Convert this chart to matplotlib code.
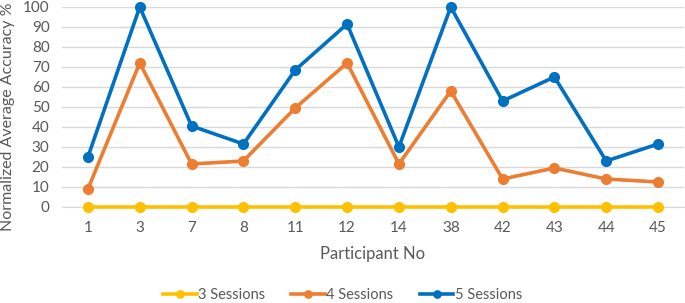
import matplotlib.pyplot as plt
import numpy as np

participants = ["1", "3", "7", "8", "11", "12", "14", "38", "42", "43", "44", "45"]
sessions_3 = [0, 0, 0, 0, 0, 0, 0, 0, 0, 0, 0, 0]
sessions_4 = [9, 72, 21.5, 23, 49.5, 72, 21.5, 58, 14, 19.5, 14, 12.5]
sessions_5 = [25, 100, 40.5, 31.5, 68.5, 91.5, 30, 100, 53, 65, 23, 31.5]

text_col = "#595959"
plt.rcParams["font.family"] = ["Lato", "DejaVu Sans"]

fig = plt.figure(figsize=(6.85, 3.03), dpi=100)
ax = fig.add_axes([62 / 685, 96 / 303, 622 / 685, 200 / 303])

x = np.arange(len(participants))
series = [
    ("3 Sessions", sessions_3, "#FFC000"),
    ("4 Sessions", sessions_4, "#ED7D31"),
    ("5 Sessions", sessions_5, "#0070C0"),
]
for name, vals, col in series:
    ax.plot(x, vals, color=col, lw=2.6, marker="o", ms=7, label=name,
            clip_on=False, zorder=3)

ax.set_xlim(-0.5, len(participants) - 0.5)
ax.set_ylim(0, 100)
ax.set_yticks(range(0, 101, 10))
ax.set_xticks(x)
ax.set_xticklabels(participants)
ax.yaxis.grid(True, color="#D9D9D9", lw=1)
ax.set_axisbelow(True)
for s in ["top", "right", "left"]:
    ax.spines[s].set_visible(False)
ax.spines["bottom"].set_color("#D9D9D9")
ax.tick_params(length=0, colors=text_col, labelsize=11)
ax.tick_params(axis="x", pad=10)
ax.tick_params(axis="y", pad=9)

ax.set_xlabel("Participant No", color=text_col, fontsize=12, labelpad=8)
ax.set_ylabel("Normalized Average Accuracy %", color=text_col, fontsize=11.5,
              labelpad=6, y=0.45)

leg = fig.legend(loc="lower center", bbox_to_anchor=(0.5, -0.04), ncol=3,
                 frameon=False, fontsize=10.5, handlelength=2.3, handletextpad=0.1,
                 columnspacing=1.8, markerscale=0.75)
for t in leg.get_texts():
    t.set_color(text_col)

fig.savefig("out.png", dpi=100)
